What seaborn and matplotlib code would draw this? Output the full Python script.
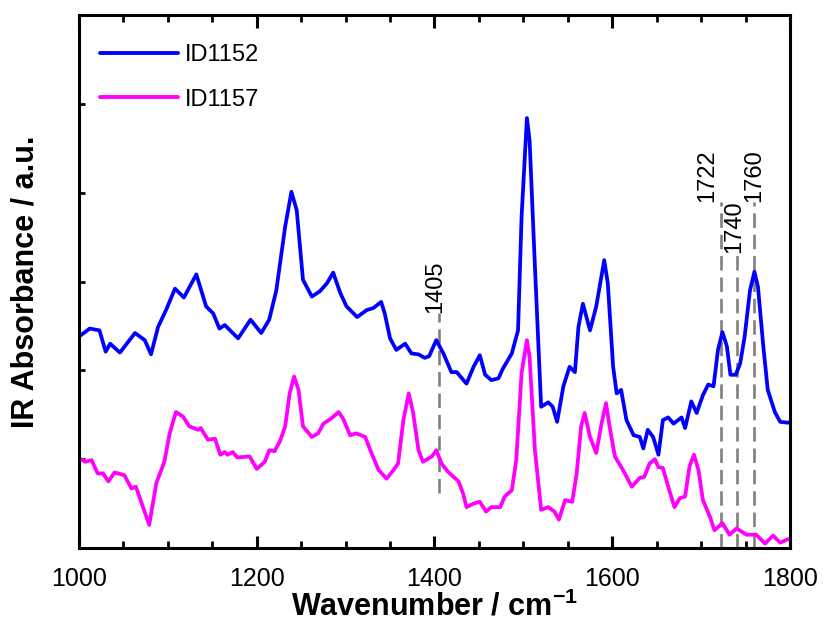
import matplotlib
matplotlib.use("Agg")
import matplotlib.pyplot as plt
from matplotlib.ticker import MultipleLocator, FixedLocator, NullFormatter
import numpy as np
import pandas as pd
import seaborn as sns

# Spectrum ID1152 (wavenumber / cm-1, absorbance a.u.)
wn_1152 = [1000, 1012, 1023, 1030, 1035, 1046, 1063, 1074, 1081, 1089, 1098, 1108,
           1118, 1132, 1143, 1151, 1158, 1164, 1179, 1193, 1205, 1214, 1222, 1232,
           1239, 1245, 1252, 1262, 1271, 1279, 1286, 1294, 1301, 1313, 1324, 1331,
           1340, 1344, 1350, 1357, 1367, 1374, 1382, 1389, 1394, 1402, 1410, 1419,
           1425, 1436, 1444, 1451, 1457, 1464, 1472, 1477, 1487, 1494, 1498, 1504,
           1507, 1513, 1520, 1528, 1533, 1538, 1545, 1552, 1558, 1562, 1567, 1575,
           1582, 1591, 1595, 1601, 1605, 1610, 1616, 1624, 1631, 1635, 1640, 1646,
           1652, 1657, 1663, 1669, 1678, 1682, 1689, 1695, 1702, 1708, 1714, 1719,
           1724, 1729, 1733, 1739, 1744, 1749, 1755, 1760, 1764, 1770, 1775, 1783,
           1789, 1798, 1800]
abs_1152 = [2.38, 2.47, 2.45, 2.21, 2.30, 2.20, 2.42, 2.34, 2.18, 2.49, 2.68, 2.92,
            2.82, 3.08, 2.72, 2.64, 2.47, 2.51, 2.36, 2.57, 2.42, 2.57, 2.90, 3.62,
            4.01, 3.80, 3.02, 2.83, 2.89, 2.98, 3.10, 2.87, 2.72, 2.60, 2.68, 2.70,
            2.77, 2.64, 2.36, 2.23, 2.30, 2.19, 2.18, 2.14, 2.16, 2.34, 2.19, 1.98,
            1.98, 1.85, 2.04, 2.17, 1.95, 1.89, 1.91, 2.02, 2.19, 2.45, 3.73, 4.84,
            4.59, 3.17, 1.59, 1.64, 1.59, 1.42, 1.82, 2.04, 1.98, 2.49, 2.75, 2.45,
            2.72, 3.24, 2.98, 2.04, 1.74, 1.78, 1.44, 1.27, 1.25, 1.12, 1.33, 1.25,
            1.05, 1.44, 1.47, 1.40, 1.47, 1.35, 1.65, 1.52, 1.72, 1.84, 1.82, 2.23,
            2.43, 2.27, 1.95, 1.95, 2.08, 2.38, 2.90, 3.11, 2.94, 2.27, 1.78, 1.53,
            1.42, 1.41, 1.42]

# Spectrum ID1157
wn_1157 = [1000, 1007, 1014, 1021, 1027, 1033, 1040, 1051, 1059, 1064, 1072, 1079,
           1087, 1096, 1102, 1109, 1117, 1124, 1134, 1137, 1145, 1153, 1159, 1164,
           1167, 1173, 1178, 1192, 1200, 1209, 1214, 1220, 1226, 1232, 1237, 1242,
           1247, 1252, 1262, 1269, 1275, 1284, 1292, 1297, 1305, 1312, 1322, 1329,
           1337, 1346, 1354, 1359, 1365, 1371, 1376, 1382, 1387, 1397, 1402, 1408,
           1415, 1427, 1432, 1436, 1444, 1451, 1458, 1464, 1474, 1479, 1487, 1492,
           1498, 1504, 1507, 1513, 1520, 1528, 1535, 1540, 1547, 1555, 1560, 1565,
           1569, 1575, 1582, 1588, 1593, 1597, 1603, 1612, 1622, 1631, 1636, 1642,
           1648, 1652, 1657, 1663, 1670, 1676, 1682, 1687, 1692, 1697, 1702, 1710,
           1715, 1724, 1732, 1740, 1751, 1762, 1772, 1781, 1789, 1798, 1800]
abs_1157 = [1.01, 0.97, 0.99, 0.84, 0.84, 0.75, 0.85, 0.82, 0.67, 0.69, 0.46, 0.26,
            0.73, 0.97, 1.29, 1.53, 1.48, 1.37, 1.33, 1.35, 1.22, 1.23, 1.05, 1.08,
            1.05, 1.08, 1.02, 1.03, 0.89, 0.97, 1.10, 1.09, 1.20, 1.37, 1.74, 1.93,
            1.78, 1.37, 1.25, 1.29, 1.40, 1.46, 1.53, 1.46, 1.27, 1.29, 1.25, 1.07,
            0.88, 0.78, 0.88, 0.95, 1.44, 1.74, 1.52, 1.10, 0.97, 1.03, 1.10, 0.95,
            0.86, 0.75, 0.62, 0.46, 0.50, 0.52, 0.41, 0.46, 0.46, 0.58, 0.65, 0.99,
            1.97, 2.34, 2.15, 1.10, 0.43, 0.46, 0.41, 0.32, 0.54, 0.52, 0.84, 1.37,
            1.52, 1.25, 1.07, 1.40, 1.63, 1.37, 1.03, 0.88, 0.69, 0.79, 0.80, 0.95,
            1.00, 0.91, 0.90, 0.69, 0.46, 0.56, 0.58, 0.92, 1.05, 0.88, 0.54, 0.35,
            0.20, 0.28, 0.15, 0.22, 0.15, 0.15, 0.05, 0.14, 0.06, 0.10, 0.10]

# Marked band positions and the vertical extent of their guide lines
band_pos = [1405, 1722, 1740, 1760]
band_low = [0.62, 0.0, 0.0, 0.0]
band_high = [2.65, 3.90, 3.32, 3.90]

sample_names = ["ID1152", "ID1157"]
sample_colors = ["#0000ff", "#ff00ff"]

df = pd.concat([
    pd.DataFrame({"wn": wn_1152, "A": abs_1152, "sample": sample_names[0]}),
    pd.DataFrame({"wn": wn_1157, "A": abs_1157, "sample": sample_names[1]}),
], ignore_index=True)

sns.set_style("ticks")
plt.rcParams["font.family"] = ["Liberation Sans Narrow", "Liberation Sans", "DejaVu Sans"]
plt.rcParams["axes.linewidth"] = 2.2
plt.rcParams["text.color"] = "black"
plt.rcParams["axes.labelcolor"] = "black"
plt.rcParams["xtick.color"] = "black"
plt.rcParams["ytick.color"] = "black"
plt.rcParams["lines.solid_joinstyle"] = "round"
plt.rcParams["lines.solid_capstyle"] = "round"

fig = plt.figure(figsize=(8.24, 6.25), dpi=100)
ax = fig.add_axes([0.0959, 0.1232, 0.8628, 0.8528])

sns.lineplot(data=df, x="wn", y="A", hue="sample", hue_order=sample_names,
             palette=dict(zip(sample_names, sample_colors)), estimator=None,
             sort=True, linewidth=2.7, ax=ax)

# Guide lines and their labels
label_shift = [-3, -10, -2, 0]  # horizontal nudges in points
for pos, lo, hi, dx in zip(band_pos, band_low, band_high, label_shift):
    ax.plot([pos, pos], [lo, hi], color="#808080", lw=1.9, dashes=(5.5, 2.6), zorder=1)
    ax.annotate(str(pos), xy=(pos, hi), xytext=(dx, 0), textcoords="offset points",
                rotation=90, ha="center", va="bottom", fontsize=17, color="black")

ax.set_xlim(1000, 1800)
ax.set_ylim(0, 6)

ax.xaxis.set_major_locator(MultipleLocator(200))
ax.xaxis.set_minor_locator(MultipleLocator(50))
ax.yaxis.set_major_locator(FixedLocator([1, 2, 3, 4, 5]))
ax.yaxis.set_major_formatter(NullFormatter())
ax.tick_params(axis="x", which="major", direction="in", top=True, length=9, width=2.2,
               labelsize=18, pad=14)
ax.tick_params(axis="x", which="minor", direction="in", top=True, length=5, width=2.0)
ax.tick_params(axis="y", which="major", direction="in", left=True, right=False,
               length=4, width=2.0)

ax.set_xlabel("Wavenumber / cm$^{\\mathregular{-1}}$", fontsize=22, fontweight="bold",
              labelpad=0)
ax.set_ylabel("IR Absorbance / a.u.", fontsize=22, fontweight="bold", labelpad=24)

leg = ax.legend(loc="upper left", bbox_to_anchor=(0.0, 0.985), frameon=False,
                fontsize=17, handlelength=3.3, handletextpad=0.3, labelspacing=0.95,
                borderaxespad=0.5, title=None)
for line in leg.get_lines():
    line.set_linewidth(2.8)

for side in ["top", "bottom", "left", "right"]:
    ax.spines[side].set_visible(True)
    ax.spines[side].set_color("black")

fig.savefig("out.png", dpi=100)
